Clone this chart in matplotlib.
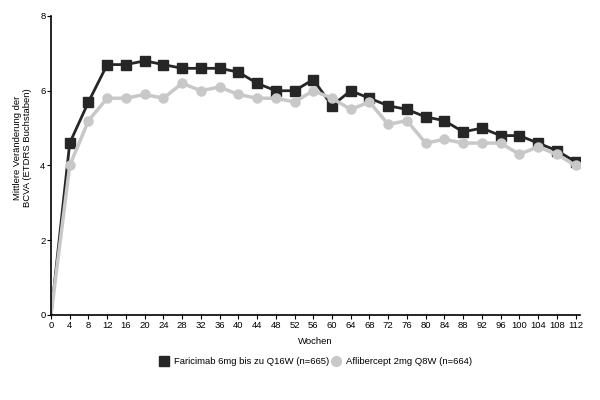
import matplotlib
matplotlib.use("Agg")
import matplotlib.pyplot as plt

plt.rcParams['font.family'] = ['Liberation Sans', 'DejaVu Sans']

# weeks and mean BCVA change
weeks = [0, 4, 8, 12, 16, 20, 24, 28, 32, 36, 40, 44, 48, 52, 56,
         60, 64, 68, 72, 76, 80, 84, 88, 92, 96, 100, 104, 108, 112]
faricimab = [0.0, 4.6, 5.7, 6.7, 6.7, 6.8, 6.7, 6.6, 6.6, 6.6, 6.5, 6.2, 6.0, 6.0, 6.3,
             5.6, 6.0, 5.8, 5.6, 5.5, 5.3, 5.2, 4.9, 5.0, 4.8, 4.8, 4.6, 4.4, 4.1]
aflibercept = [0.0, 4.0, 5.2, 5.8, 5.8, 5.9, 5.8, 6.2, 6.0, 6.1, 5.9, 5.8, 5.8, 5.7, 6.0,
               5.8, 5.5, 5.7, 5.1, 5.2, 4.6, 4.7, 4.6, 4.6, 4.6, 4.3, 4.5, 4.3, 4.0]
label_far = "Faricimab 6mg bis zu Q16W (n=665)"
label_afl = "Aflibercept 2mg Q8W (n=664)"

fs = 6.8
fig = plt.figure(figsize=(6, 4), dpi=100)
ax = fig.add_axes([0.085, 0.2125, 0.882, 0.7475])

# no marker at baseline (week 0)
ax.plot(weeks, faricimab, color='#262626', lw=2.0, marker='s', ms=6.5,
        markevery=slice(1, None))
ax.plot(weeks, aflibercept, color='#c8c8c8', lw=2.5, marker='o', ms=6.5,
        markevery=slice(1, None))

ax.set_xlim(0, 113)
ax.set_ylim(0, 8)
ax.set_xticks(range(0, 113, 4))
ax.set_yticks([0, 2, 4, 6, 8])
for s in ['top', 'right']:
    ax.spines[s].set_visible(False)
ax.spines['left'].set_linewidth(1.2)
ax.spines['bottom'].set_linewidth(1.2)
ax.tick_params(labelsize=fs, length=3, width=0.8, pad=1)

ax.set_xlabel("Wochen", fontsize=fs, labelpad=5)
ax.set_ylabel("Mittlere Veränderung der\nBCVA (ETDRS Buchstaben)", fontsize=fs)
ax.yaxis.set_label_coords(-0.036, 0.56)

h1 = plt.Line2D([], [], ls='none', marker='s', ms=7, color='#262626')
h2 = plt.Line2D([], [], ls='none', marker='o', ms=7, color='#c8c8c8')
fig.legend([h1, h2], [label_far, label_afl], loc='center',
           bbox_to_anchor=(0.527, 0.095), ncol=2, frameon=False, fontsize=fs,
           handlelength=0.8, handletextpad=0.6, columnspacing=0.4)

fig.savefig("out.png", dpi=100)
